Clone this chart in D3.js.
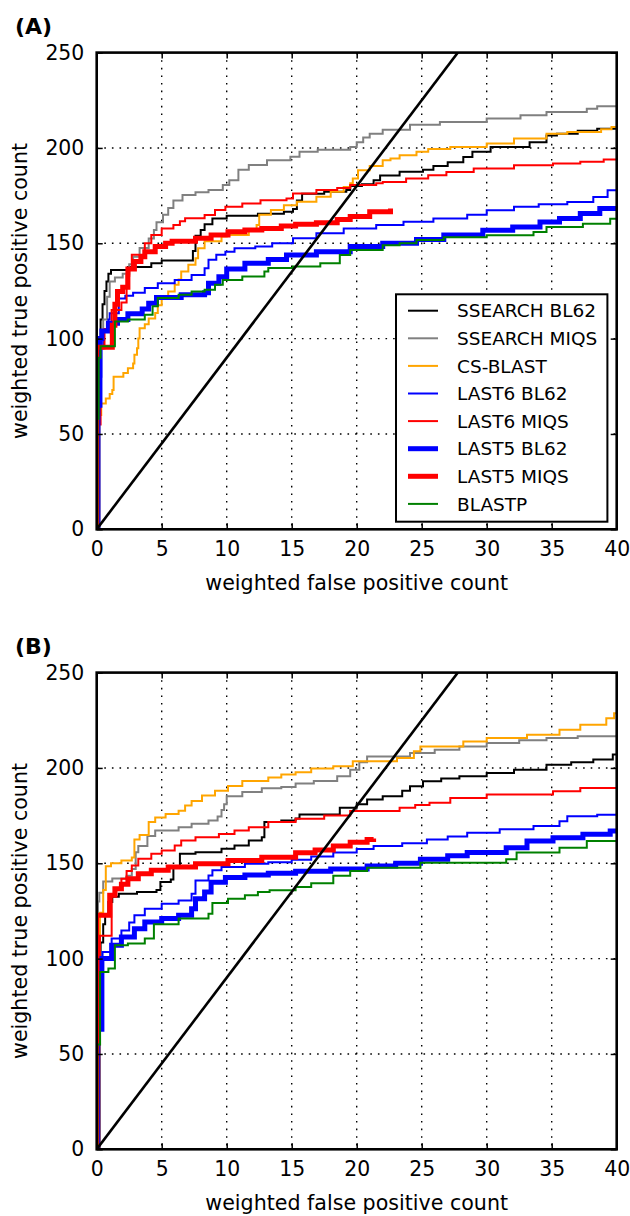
<!DOCTYPE html>
<html><head><meta charset="utf-8">
<script src="https://cdn.jsdelivr.net/npm/d3@7"></script>
<style>body{margin:0;background:#fff;} svg{display:block;font-family:"DejaVu Sans",sans-serif;}</style>
</head><body><svg id="c" width="630" height="1216"></svg>
<script>
const seriesNames = ["SSEARCH BL62","SSEARCH MIQS","CS-BLAST","LAST6 BL62","LAST6 MIQS","LAST5 BL62","LAST5 MIQS","BLASTP"];
const seriesColors = ["#000000","#808080","#FFA500","#0000FF","#FF0000","#0000FF","#FF0000","#008000"];
const seriesWidths = [2,2,2,2,2,5,5,2];
const xTicks = [0,5,10,15,20,25,30,35,40];
const yTicks = [0,50,100,150,200,250];
const panelLabels = ["(A)","(B)"];
const xLabel = "weighted false positive count";
const yLabel = "weighted true positive count";
const diagonal = [[0,0],[40,360]];

// Panel A
const A_ssearchBL62 = [[0,0],[0.15,100],[0.3,110],[0.45,118],[0.6,125],[0.75,130],[0.9,134],[1.1,136],[2.4,137.5],[4.2,139.5],[5.0,141],[7.4,146],[7.6,154],[8.0,157],[8.3,160],[8.9,163],[10.0,164.5],[12.4,165.5],[14.4,166.5],[15.1,168],[15.4,172.5],[15.8,176],[17.5,177],[19.2,178],[19.5,180],[20.4,181],[21.3,183],[21.8,185.5],[23.3,187.5],[25.1,188.5],[25.9,190.5],[27.0,192.5],[28.2,195.3],[28.9,198],[30.3,200.5],[33.3,203],[34.6,206.5],[35.4,207.5],[37.0,209],[38.5,210],[40,210.5]];
const A_ssearchMIQS = [[0,0],[0.2,100],[0.5,110],[0.8,122],[1.0,130],[1.4,132],[2.0,134],[2.5,139],[2.8,143],[3.3,147.5],[4.0,152.5],[4.4,157],[4.6,161],[5.1,165],[5.5,168.5],[5.9,172.5],[6.6,175.3],[7.6,176.7],[8.6,178],[9.7,180.5],[10.2,183],[10.9,188.5],[11.7,191],[13.1,193.6],[14.9,195.4],[15.6,198],[17.0,199],[19.5,200.5],[20.0,203],[20.5,205.5],[21.0,207.5],[22.0,209.5],[24.1,212.2],[26.4,213.6],[30.0,215.4],[32.6,217.1],[34.6,218.9],[37.7,220.6],[38.5,221.9],[40,222]];
const A_csblast = [[0,0],[0.2,60],[0.35,66],[0.7,68.6],[1.0,71],[1.2,73],[1.3,80],[2.05,82],[2.4,84.5],[2.8,87],[2.9,91.6],[3.1,95],[3.2,100],[3.3,105.5],[3.7,107.5],[4.0,110.5],[4.5,113.5],[4.7,117.5],[5.0,121.3],[5.5,124.7],[6.0,128.2],[6.3,131],[6.5,135.2],[7.05,138.7],[7.6,142.2],[7.8,147.4],[8.3,151],[9.6,153.5],[10.0,154.4],[11.7,157],[12.3,159.6],[12.5,165],[13.4,167.5],[14.4,170],[15.4,171.8],[16.9,174.4],[18.0,177],[19.0,179.5],[19.5,181.5],[19.7,184],[20.1,188.3],[21.0,190.5],[22.0,193.6],[22.6,194.5],[23.3,196.2],[24.6,198],[25.5,199.5],[27.2,200.5],[30,202.3],[32.1,204.9],[34.6,207.5],[36.2,208.4],[38.8,209.8],[39.6,211],[40,211]];
const A_last6BL62 = [[0,0],[0,62],[0.25,80],[0.35,95],[0.5,104],[0.9,110],[1.0,113.3],[1.7,121],[2.2,122.5],[2.8,124],[3.7,126.5],[4.7,129],[6.0,130.8],[7.3,133.4],[8.3,136.9],[8.6,141.3],[9.2,144],[9.9,145.6],[10.6,147.4],[12.2,148.3],[13.5,150],[15.1,152.6],[16.9,155.2],[19.0,157.7],[21.5,159.6],[23.6,161.3],[25.9,163],[28.5,165],[30.0,167.3],[32.1,169.1],[34.0,170.5],[36.2,171.7],[38.2,174.3],[39.3,177.8],[40,177.8]];
const A_last6MIQS = [[0,0],[0.1,55],[0.3,95],[0.6,105],[1.15,115],[1.9,119],[2.3,133],[2.5,137],[2.7,144],[3.7,150],[4.2,154.4],[5.0,157.8],[5.9,159.6],[6.4,161.5],[6.8,163.1],[8.3,164.8],[9.1,167.4],[9.9,169.2],[11.2,170.9],[12.6,172.6],[14.6,173.5],[15.1,176.1],[16.9,177.9],[18.5,179],[19.5,180.5],[21.5,181.5],[22.0,182.2],[23.8,184],[25.5,185.7],[26.9,187.4],[29.0,189.2],[32.1,190.9],[35.1,191.8],[37.2,192.7],[39.0,194],[40,194.4]];
const A_last5BL62 = [[0,0],[0.1,65],[0.25,100],[0.4,104],[0.9,108],[1.6,110],[2.4,113],[3.5,115.5],[4.0,118.5],[4.6,121.5],[6.5,123],[8.3,124],[8.6,129],[9.4,132.5],[10.0,136.5],[11.4,139.5],[13.2,141.5],[14.6,143.9],[16.9,145.6],[19.5,148.3],[22.0,150],[24.6,152],[26.7,154.4],[29.7,156.8],[32.0,158.5],[34.1,161.2],[35.6,163],[37.2,165.6],[38.7,168.2],[40,169]];
const A_last5MIQS = [[0,0],[0,95.5],[1.2,107],[1.4,118],[1.6,124.7],[2.0,127],[2.4,136.5],[2.9,140.4],[3.4,143],[3.7,145.6],[4.5,148.3],[5.3,150],[5.8,151],[7.6,152.6],[8.8,154.4],[10.1,156.1],[11.4,157],[12.7,157.8],[14.2,159],[15.3,160],[16.9,160.8],[18.5,162.5],[19.5,164],[21.0,166.6],[22.6,168.3]];
const A_blastp = [[0,0],[0.05,58],[0.15,90],[0.3,96],[1.4,109],[2.4,110],[3.7,112.5],[4.3,117],[4.7,121.3],[6.3,123],[7.3,124.7],[8.3,125.6],[9.1,128.2],[9.7,130.8],[11.2,132.6],[12.9,135.2],[13.2,137],[15.1,137.8],[17.2,139.5],[18.7,143.8],[19.5,146.5],[22.0,149],[23.3,150],[24.6,151.7],[26.7,153.2],[30.0,154.2],[33.6,155.9],[34.6,158.6],[37.4,160.3],[39.5,162.9],[40,163]];

// Panel B
const B_ssearchBL62 = [[0,0],[0.2,100],[0.3,108.5],[0.5,118],[0.65,122.6],[0.9,129.7],[1.2,132.5],[1.7,134],[3.1,134.9],[4.6,136],[4.9,140.2],[5.7,141.5],[5.9,148.5],[6.4,155],[7.6,155.8],[9.6,157.6],[10.6,159.3],[11.7,162],[12.7,163.7],[12.9,171.6],[14.2,172.4],[15.3,173.5],[15.6,175.6],[18.7,179.1],[20.0,181],[20.8,183.4],[22.0,185.2],[23.5,188],[24.1,190.4],[25.1,193],[26.5,194.5],[27.9,195.6],[30.0,197.4],[32.1,199.1],[34.6,201.7],[36.5,203],[38.2,204.4],[39.7,207],[40,207]];
const B_ssearchMIQS = [[0,0],[0.1,130],[0.2,134.5],[0.5,140.5],[1.2,142],[2.3,143.5],[2.7,147],[3.0,155.8],[3.2,159],[3.9,164.3],[4.5,167.2],[6.3,168.9],[7.3,170.7],[8.6,172.4],[9.3,174.5],[9.6,178],[9.8,181],[10.0,185.2],[11.2,187.4],[12.7,189.3],[14.2,190],[15.3,191.8],[16.7,193.2],[18.5,195.6],[19.5,199.1],[20.2,203],[20.8,206],[24.1,207.8],[26,209.5],[27.9,211.3],[30.0,213.1],[32.5,214.5],[34.6,215.7],[37,216.6],[40,217.4]];
const B_csblast = [[0,0],[0.25,124],[0.5,136],[0.7,148.5],[1.1,150],[1.9,151.5],[2.7,153],[2.9,162.5],[3.3,164.8],[4.0,171.6],[4.5,174],[5.3,175.9],[6.3,177.5],[6.8,180.3],[7.3,182.6],[8.1,185.5],[9.1,188.1],[10.1,190.5],[11.2,193.2],[13.2,195],[14.2,196.6],[15.3,197.8],[16.5,199.7],[18.2,200.9],[19.7,203.5],[23.1,205.2],[24.4,208.7],[24.9,211.3],[28.2,213.9],[30,215.7],[33.1,217.4],[35.6,220],[37.2,222.6],[39.2,226.1],[39.8,228.7],[40,228.7]];
const B_last6BL62 = [[0,0],[0.1,65],[0.3,95],[0.45,103.5],[1.15,110.5],[1.9,114.8],[2.5,119],[2.9,122.7],[3.7,126.2],[5.0,128.8],[6.3,130.5],[7.3,134],[7.6,141],[8.6,143.6],[8.9,146.3],[9.6,148],[11.4,149.7],[13.2,150.6],[15.0,151.8],[16.5,153.5],[18.2,155.6],[20,157.5],[21.3,159.1],[23.5,160.5],[25.4,162.5],[27,164],[28.5,166],[31.0,167.8],[33.6,169.5],[35.6,172.1],[36.2,174.7],[38.5,175.5],[40,176.1]];
const B_last6MIQS = [[0,0],[0.1,55],[0.25,112],[1.15,133.2],[1.5,137],[1.9,141.9],[2.3,146],[2.7,148.9],[3.2,152.4],[4.2,155],[5.0,156.7],[6.0,159.3],[6.5,162],[7.6,163.7],[9.4,165.4],[10.6,167.2],[11.7,168.9],[13.2,171.6],[15.3,173.3],[17.5,175],[19.5,177.4],[23.3,179.1],[24.5,180.5],[25.6,181.7],[27.2,184.3],[30.0,186.1],[35.1,187.8],[37.2,189.5],[40,190]];
const B_last5BL62 = [[0,0],[0.1,63],[0.4,100],[1.15,107],[1.9,111.3],[2.9,115.7],[3.7,119.2],[5.0,121],[6.3,122.7],[7.3,126.2],[7.6,131.4],[8.3,134.9],[8.8,140.1],[9.9,142.5],[11.4,143.8],[13.2,144.8],[15.3,145.8],[18,147],[20.8,148.6],[23,150],[24.9,152.1],[27,154],[28.5,155.6],[31.5,158.2],[33.1,161.7],[35.1,163.4],[37.4,165.2],[39.5,166.9],[40,167]];
const B_last5MIQS = [[0,0],[0,122.7],[1.0,133.2],[1.4,136.6],[1.9,139],[2.4,141.9],[3.2,144.5],[4.2,146.3],[5.5,148],[7.6,149.7],[10.1,151.5],[12.7,153.2],[15.3,155.5],[16.8,157],[18.2,159.1],[19.5,161],[20.8,162.5],[21.3,163]];
const B_blastp = [[0,0],[0.05,55],[0.26,93],[0.9,94.8],[1.4,107],[2.4,107.9],[3.7,110.5],[4.4,118],[6.3,121],[8.6,123.5],[8.9,129.2],[10.1,131.4],[11.4,133.2],[12.4,135],[13.3,135.9],[15.3,137.5],[16.5,139.5],[18.2,143.4],[19.5,146],[20.8,147.7],[24.9,150.3],[31.5,152.1],[32.3,155.6],[35.6,158.2],[37.7,161.7],[40,162]];

const panels = [
  {label: panelLabels[0], top: 52.6, legend: true,
   data: [A_ssearchBL62, A_ssearchMIQS, A_csblast, A_last6BL62, A_last6MIQS, A_last5BL62, A_last5MIQS, A_blastp]},
  {label: panelLabels[1], top: 672.6, legend: false,
   data: [B_ssearchBL62, B_ssearchMIQS, B_csblast, B_last6BL62, B_last6MIQS, B_last5BL62, B_last5MIQS, B_blastp]}
];

const L = 96.7, W = 520, H = 476.7;
const x = d3.scaleLinear().domain([0,40]).range([0,W]);
const y = d3.scaleLinear().domain([0,250]).range([H,0]);
const svg = d3.select("#c");
svg.append("rect").attr("width",630).attr("height",1216).attr("fill","#fff");

const stepLine = d3.line().x(d=>x(d[0])).y(d=>y(d[1])).curve(d3.curveStepAfter);
const straight = d3.line().x(d=>x(d[0])).y(d=>y(d[1]));

panels.forEach((p, pi) => {
  const g = svg.append("g").attr("transform", `translate(${L},${p.top})`);
  const cid = "clip" + pi;
  g.append("clipPath").attr("id", cid).append("rect").attr("width", W).attr("height", H);

  // grid
  const grid = g.append("g").attr("stroke","#000").attr("stroke-width",1.4).attr("stroke-dasharray","1.6,6");
  grid.selectAll(".gx").data(xTicks.slice(1,-1)).join("line").attr("class","gx")
    .attr("x1",d=>x(d)).attr("x2",d=>x(d)).attr("y1",0).attr("y2",H);
  grid.selectAll(".gy").data(yTicks.slice(1,-1)).join("line").attr("class","gy")
    .attr("y1",d=>y(d)).attr("y2",d=>y(d)).attr("x1",0).attr("x2",W);

  // curves
  const cg = g.append("g").attr("clip-path", `url(#${cid})`);
  p.data.forEach((d,i) => {
    cg.append("path").attr("d", stepLine(d)).attr("fill","none")
      .attr("stroke", seriesColors[i]).attr("stroke-width", seriesWidths[i])
      .attr("stroke-linejoin","miter").attr("stroke-linecap","butt");
  });
  cg.append("path").attr("d", straight(diagonal)).attr("fill","none")
    .attr("stroke","#000").attr("stroke-width",2.6);

  // axes
  const styleAxis = (sel, showText) => {
    sel.select(".domain").remove();
    sel.selectAll(".tick line").attr("stroke","#000").attr("stroke-width",1.5);
    sel.selectAll(".tick text").attr("font-size",20.4).attr("fill","#000")
      .attr("font-family","DejaVu Sans");
    if (!showText) sel.selectAll(".tick text").remove();
  };
  g.append("g").attr("transform",`translate(0,${H})`)
    .call(d3.axisBottom(x).tickValues(xTicks).tickSizeInner(-6).tickSizeOuter(0).tickPadding(12.5).tickFormat(d3.format("d")))
    .call(s=>styleAxis(s,true));
  g.append("g")
    .call(d3.axisTop(x).tickValues(xTicks).tickSizeInner(-6).tickSizeOuter(0))
    .call(s=>styleAxis(s,false));
  g.append("g")
    .call(d3.axisLeft(y).tickValues(yTicks).tickSizeInner(-6).tickSizeOuter(0).tickPadding(12.4).tickFormat(d3.format("d")))
    .call(s=>styleAxis(s,true));
  g.append("g").attr("transform",`translate(${W},0)`)
    .call(d3.axisRight(y).tickValues(yTicks).tickSizeInner(-6).tickSizeOuter(0))
    .call(s=>styleAxis(s,false));

  // frame
  g.append("rect").attr("width",W).attr("height",H).attr("fill","none")
    .attr("stroke","#000").attr("stroke-width",2.6);

  // legend
  if (p.legend) {
    const lg = g.append("g").attr("transform","translate(299.3,241.7)");
    lg.append("rect").attr("width",211.4).attr("height",227.4).attr("fill","#fff")
      .attr("stroke","#000").attr("stroke-width",2);
    seriesNames.forEach((n,i) => {
      const ry = 16.4 + i*27.6;
      lg.append("line").attr("x1",12).attr("x2",42).attr("y1",ry).attr("y2",ry)
        .attr("stroke",seriesColors[i]).attr("stroke-width",seriesWidths[i]);
      lg.append("text").attr("x",61).attr("y",ry).attr("dy","0.36em")
        .attr("font-size",18.5).attr("fill","#000").text(n);
    });
  }

  // labels
  svg.append("text").attr("x",15).attr("y",p.top - 18.6).attr("font-size",22)
    .attr("font-weight","bold").attr("fill","#000").text(p.label);
  svg.append("text").attr("x", L + W/2).attr("y", p.top + H + 61)
    .attr("text-anchor","middle").attr("font-size",20.6).attr("fill","#000").text(xLabel);
  svg.append("text").attr("transform",`translate(27,${p.top + H/2}) rotate(-90)`)
    .attr("text-anchor","middle").attr("font-size",20.6).attr("fill","#000").text(yLabel);
});
</script>
</body></html>
